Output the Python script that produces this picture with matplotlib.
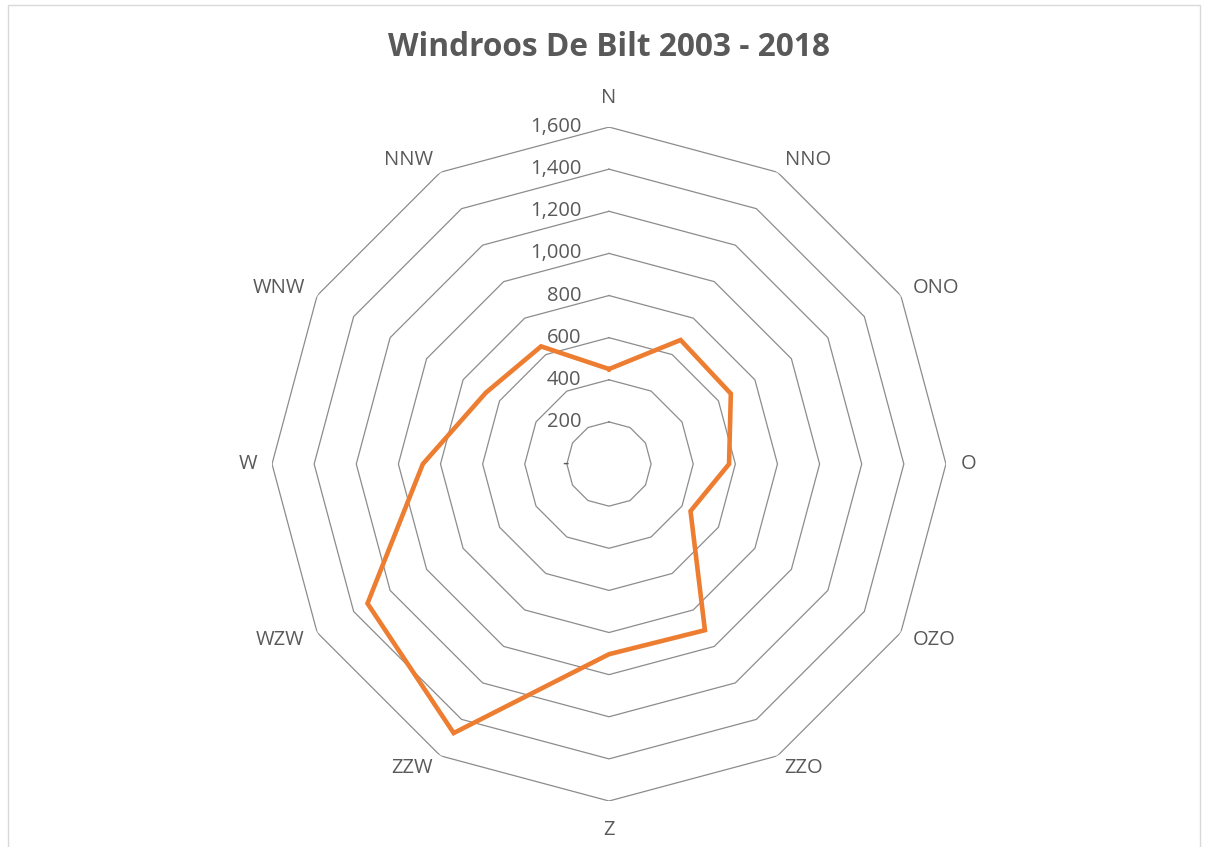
import numpy as np
import matplotlib
matplotlib.use("Agg")
import matplotlib.pyplot as plt
from matplotlib.patches import Rectangle

# wind directions (clockwise from north) and counts
directions = ["N", "NNO", "ONO", "O", "OZO", "ZZO", "Z", "ZZW", "WZW", "W", "WNW", "NNW"]
counts = [451, 680, 668, 570, 447, 911, 903, 1475, 1324, 884, 676, 645]
levels = [200, 400, 600, 800, 1000, 1200, 1400, 1600]
level_labels = ["200", "400", "600", "800", "1,000", "1,200", "1,400", "1,600"]

plt.rcParams['font.family'] = ['Open Sans', 'DejaVu Sans']
grey = '#595959'

fig = plt.figure(figsize=(12.1, 8.47), dpi=100)
ax = fig.add_axes([0.2248, 0.0543, 0.557, 0.7957], projection='polar')
ax.set_theta_zero_location('N')
ax.set_theta_direction(-1)
ax.set_ylim(0, 1600)
ax.grid(False)
ax.spines['polar'].set_visible(False)
ax.set_xticks([])
ax.set_yticks([])
ax.patch.set_alpha(0)

theta = np.arange(len(directions)) * 2 * np.pi / len(directions)
theta_closed = np.append(theta, theta[0])

# polygon grid rings
for lv in levels:
    ax.plot(theta_closed, [lv] * len(theta_closed), color='#8c8c8c', lw=0.9, zorder=1)

# value labels on the north axis
for lv, lab in zip(levels, level_labels):
    ax.annotate(lab, xy=(0, lv), xytext=(-20, 0), textcoords='offset points',
                ha='right', va='center', fontsize=14.5, color=grey, annotation_clip=False)
ax.annotate("-", xy=(0, 0), xytext=(-29, 0), textcoords='offset points',
            ha='right', va='center', fontsize=14.5, color=grey, annotation_clip=False)

# category labels
for t, d in zip(theta, directions):
    s = np.sin(t)
    if abs(s) < 1e-6:
        ax.text(t, 1740, d, ha='center', va='center', fontsize=14.5, color=grey, clip_on=False)
    else:
        ax.text(t, 1668, d, ha='left' if s > 0 else 'right', va='center',
                fontsize=14.5, color=grey, clip_on=False)

# data line
vals = np.append(counts, counts[0])
ax.plot(theta_closed, vals, color='#ED7D31', lw=3.3, zorder=3, solid_joinstyle='miter')

fig.text(0.503, 0.944, "Windroos De Bilt 2003 - 2018", ha='center', va='center',
         fontsize=22.8, fontweight='bold', color=grey)

fig.patches.append(Rectangle((8 / 1210, -0.01), 1192 / 1210, 1 - 5 / 847 + 0.01,
                             transform=fig.transFigure, fill=False,
                             edgecolor='#d9d9d9', lw=1))

fig.savefig("out.png", dpi=100)
